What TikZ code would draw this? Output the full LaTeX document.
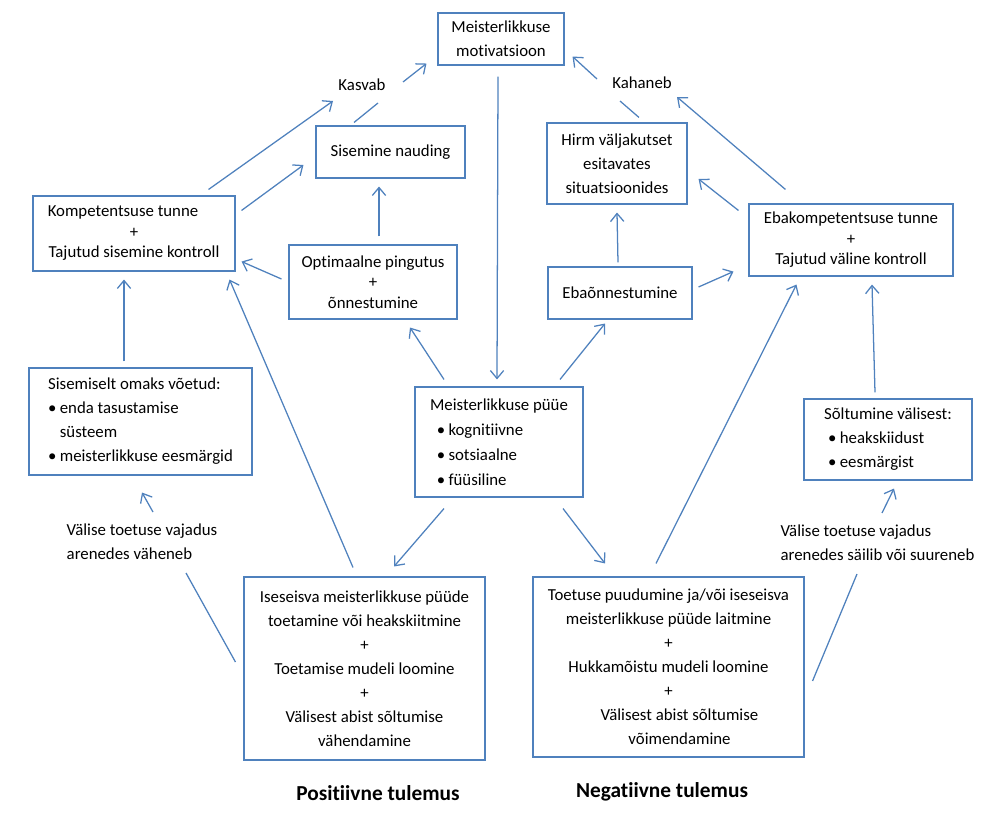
\documentclass[tikz,border=0pt]{standalone}
\usepackage{fontspec}
\setmainfont{Carlito}[Ligatures=NoCommon]
\usetikzlibrary{calc, positioning}
\usetikzlibrary{arrows.meta}
\definecolor{boxblue}{HTML}{4F81BD}

\begin{document}
\begin{tikzpicture}[x=0.75pt, y=-0.75pt,
  box/.style={draw=boxblue, line width=0.8pt, align=center, inner sep=0pt,
    font=\fontsize{12.6}{18}\selectfont},
  tight/.style={font=\fontsize{12.6}{15.4}\selectfont},
  sz/.style 2 args={minimum width=#1*\pxu, minimum height=#2*\pxu},
  lbl/.style={inner sep=0pt, font=\fontsize{12.6}{18}\selectfont},
  arr/.style={draw=boxblue, line width=0.95pt, -{Straight Barb[length=6pt,width=10pt]}},
  ln/.style={draw=boxblue, line width=0.95pt},
  tulem/.style={inner sep=0pt, font=\fontsize{16}{19}\selectfont\bfseries}]
\def\pxu{0.75pt}
\useasboundingbox (0,0) rectangle (999,817);

% kastid
\node[box, sz={126}{52}] (mot) at (501,39) {Meisterlikkuse\\motivatsioon};
\node[box, sz={149}{52}] (nauding) at (390.5,152) {Sisemine nauding};
\node[box, tight, sz={202}{75}] (komp) at (134,233.5)
  {Kompetentsuse tunne\hspace*{16.5pt}\\+\\Tajutud sisemine kontroll};
\node[box, tight, sz={168}{74}] (opt) at (373,282) {Optimaalne pingutus\\+\\õnnestumine};
\node[box, sz={140}{81}] (hirm) at (617,163.5) {Hirm väljakutset\\esitavates\\situatsioonides};
\node[box, sz={144}{52}] (eba) at (620,293) {Ebaõnnestumine};
\node[box, tight, sz={204}{72}] (ebakomp) at (851,240)
  {Ebakompetentsuse tunne\\+\\Tajutud väline kontroll};
\node[box, sz={223}{107}, align=left] (sisom) at (140.5,421.5)
  {Sisemiselt omaks võetud:\\
   •\hspace{0.2em}enda tasustamise\\
   \phantom{•\hspace{0.2em}}süsteem\\
   •\hspace{0.2em}meisterlikkuse eesmärgid};
\node[box, sz={168}{110}, align=left, font=\fontsize{12.6}{18.8}\selectfont] (pyye) at (499,442)
  {Meisterlikkuse püüe\\
   \hspace*{5pt}•\hspace{0.2em}kognitiivne\\
   \hspace*{5pt}•\hspace{0.2em}sotsiaalne\\
   \hspace*{5pt}•\hspace{0.2em}füüsiline};
\node[box, sz={168}{81}, align=left] (sol) at (888,439.5)
  {Sõltumine välisest:\\
   \hspace*{3pt}•\hspace{0.2em}heakskiidust\\
   \hspace*{3pt}•\hspace{0.2em}eesmärgist};
\node[box, sz={241}{183}] (pos) at (364.5,668.5)
  {Iseseisva meisterlikkuse püüde\\toetamine või heakskiitmine\\+\\Toetamise mudeli loomine\\+\\Välisest abist sõltumise\\vähendamine};
\node[box, sz={271}{180}] (neg) at (668.5,667)
  {Toetuse puudumine ja/või iseseisva\\meisterlikkuse püüde laitmine\\+\\Hukkamõistu mudeli loomine\\+\\
   \hspace*{16.5pt}Välisest abist sõltumise\\\hspace*{16.5pt}võimendamine};

% sildid
\node[lbl] (kasvab) at (362,85) {Kasvab};
\node[lbl] (kahaneb) at (642,83) {Kahaneb};
\node[lbl, align=left] (vali1) at (142,541.5) {Välise toetuse vajadus\\arenedes väheneb};
\node[lbl, align=left] (vali2) at (877.5,543) {Välise toetuse vajadus\\arenedes säilib või suureneb};
\node[tulem] (postulem) at (378,793) {Positiivne tulemus};
\node[tulem] (negtulem) at (662,792) {Negatiivne tulemus};

% vasak pool
\draw[arr] ($(komp.north east)+(-27,-6)$) -- ($(kasvab)+(-29,16)$);
\draw[ln] ($(nauding.north)+(-36.5,-3)$) -- ($(kasvab)+(16,18)$);
\draw[arr] ($(kasvab)+(41,-3)$) -- ($(mot.south west)+(-11,-2)$);
\draw[arr] ($(komp.north east)+(6,15)$) -- ($(nauding.west)+(-12,13)$);
\draw[arr] ($(opt.north)+(6,-8)$) -- ($(nauding.south)+(-11.5,8)$);
\draw[arr] ($(opt.west)+(-7,-3)$) -- ($(komp.south east)+(6,-10)$);
\draw[arr] ($(pos.north)+(-11.5,-9)$) -- ($(komp.south east)+(-6,8)$);
\draw[arr] ($(sisom.north)+(-16.5,-6)$) -- ($(komp.south)+(-10,8)$);
\draw[ln] ($(pos.west)+(-8,-6.5)$) -- ($(vali1)+(44,31.5)$);
\draw[arr] ($(vali1)+(11,-29.5)$) -- ($(sisom.south)+(1.5,17)$);

% keskosa
\draw[arr] ($(mot.south)+(-3,11)$) -- ($(pyye.north)+(-2,-7)$);
\draw[arr] ($(pyye.north)+(-55,-7)$) -- ($(opt.south)+(37,8)$);
\draw[arr] ($(pyye.north)+(61,-7)$) -- ($(eba.south)+(-15,4)$);
\draw[arr] ($(pyye.south)+(-55,11)$) -- ($(pos.north)+(29.5,-10)$);
\draw[arr] ($(pyye.south)+(64,11)$) -- ($(neg.north)+(-63.5,-13)$);

% parem pool
\draw[arr] ($(eba.north)+(-2,-4)$) -- ($(hirm.south)+(0,8)$);
\draw[arr] ($(eba.east)+(6,-6)$) -- ($(ebakomp.south west)+(-15,-5)$);
\draw[arr] ($(ebakomp.north west)+(-10,7)$) -- ($(hirm.east)+(11,15.5)$);
\draw[arr] ($(ebakomp.north west)+(37,-14)$) -- ($(kahaneb)+(35,14)$);
\draw[ln] ($(hirm.north)+(22,-5)$) -- ($(kahaneb)+(-22,18)$);
\draw[arr] ($(kahaneb)+(-45,-4)$) -- ($(mot.south east)+(8,-9)$);
\draw[arr] ($(neg.north)+(-12.5,-13)$) -- ($(ebakomp.south west)+(48,8)$);
\draw[arr] ($(sol.north)+(-13,-6)$) -- ($(ebakomp.south)+(21,8)$);
\draw[ln] ($(neg.east)+(8,14)$) -- ($(vali2)+(-20.5,31)$);
\draw[arr] ($(vali2)+(4.5,-30)$) -- ($(sol.south)+(6,8)$);

\end{tikzpicture}
\end{document}
